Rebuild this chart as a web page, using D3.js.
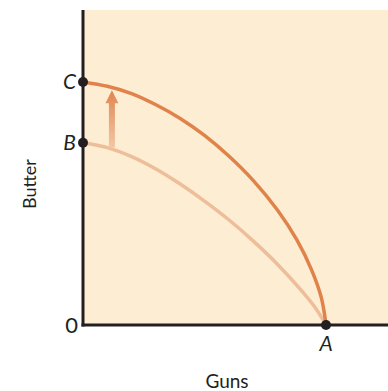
<!DOCTYPE html>
<html>
<head>
<meta charset="utf-8">
<script src="https://cdn.jsdelivr.net/npm/d3@7"></script>
<style>
  html, body { margin: 0; padding: 0; background: #ffffff; }
  svg { display: block; }
  text { font-family: "Lato", "DejaVu Sans", sans-serif; fill: #231f20; }
</style>
</head>
<body>
<svg id="chart" width="388" height="391"></svg>
<script>
// Production possibilities frontier: guns vs butter, before and after growth
const gunsBefore = [0, 10, 20, 30, 40, 50, 60, 70, 80, 90, 96, 100];
const butterBefore = [75, 73, 69.3, 64.2, 58, 51, 43.3, 34.6, 25, 14, 6.5, 0];

const gunsAfter = [0, 10, 20, 30, 40, 50, 60, 70, 80, 88, 94, 98, 100];
const butterAfter = [100, 98.2, 95.2, 90.6, 85, 78, 69.5, 59.5, 47.3, 35, 22.8, 11.5, 0];

// Labelled points on the axes
const pointNames = ["C", "B", "A"];
const pointGuns = [0, 0, 100];
const pointButter = [100, 75, 0];

const originLabel = "0";
const xTitle = "Guns";
const yTitle = "Butter";

const svg = d3.select("#chart");
const margin = { left: 83, top: 10, right: 0, bottom: 66 };
const W = 388, H = 391;
const xMax = 125.5, yMax = 129.6;

const x = d3.scaleLinear().domain([0, xMax]).range([margin.left, W - margin.right]);
const y = d3.scaleLinear().domain([0, yMax]).range([H - margin.bottom, margin.top]);

// plot background
svg.append("rect")
  .attr("x", x(0)).attr("y", y(yMax))
  .attr("width", x(xMax) - x(0)).attr("height", y(0) - y(yMax))
  .attr("fill", "#fdeed3");

const line = d3.line()
  .x(d => x(d[0])).y(d => y(d[1]))
  .curve(d3.curveCatmullRom.alpha(0.5));

svg.append("path")
  .datum(d3.zip(gunsBefore, butterBefore))
  .attr("d", line)
  .attr("fill", "none")
  .attr("stroke", "#eebd9a")
  .attr("stroke-width", 3.5);

svg.append("path")
  .datum(d3.zip(gunsAfter, butterAfter))
  .attr("d", line)
  .attr("fill", "none")
  .attr("stroke", "#e0834b")
  .attr("stroke-width", 3.5);

// shift arrow with a vertical fade
const defs = svg.append("defs");
const grad = defs.append("linearGradient")
  .attr("id", "shiftGrad")
  .attr("x1", 0).attr("y1", 1).attr("x2", 0).attr("y2", 0);
grad.append("stop").attr("offset", "0%").attr("stop-color", "#f3c7a4");
grad.append("stop").attr("offset", "100%").attr("stop-color", "#e08550");

const ax = x(11.9);
const yBottom = y(73);
const yTip = y(96.6);
const headH = 13, headW = 6.5, shaftW = 3;
svg.append("path")
  .attr("d", `M${ax - shaftW},${yBottom} L${ax - shaftW},${yTip + headH} L${ax - headW},${yTip + headH} L${ax},${yTip} L${ax + headW},${yTip + headH} L${ax + shaftW},${yTip + headH} L${ax + shaftW},${yBottom} Z`)
  .attr("fill", "url(#shiftGrad)");

// axes
svg.append("line")
  .attr("x1", x(0)).attr("x2", x(0))
  .attr("y1", y(yMax)).attr("y2", y(0) + 1.5)
  .attr("stroke", "#231f20").attr("stroke-width", 3);
svg.append("line")
  .attr("x1", x(0) - 1.5).attr("x2", x(xMax))
  .attr("y1", y(0)).attr("y2", y(0))
  .attr("stroke", "#231f20").attr("stroke-width", 3);

// labelled points
const pts = pointNames.map((n, i) => ({ n, g: pointGuns[i], b: pointButter[i] }));

svg.selectAll("circle.pt")
  .data(pts)
  .join("circle")
  .attr("class", "pt")
  .attr("cx", d => x(d.g)).attr("cy", d => y(d.b))
  .attr("r", 5)
  .attr("fill", "#231f20");

svg.selectAll("text.pt")
  .data(pts)
  .join("text")
  .attr("class", "pt")
  .attr("x", d => d.g === 0 ? x(d.g) - 7 : x(d.g))
  .attr("y", d => d.b === 0 ? y(d.b) + 26 : y(d.b) + 7)
  .attr("text-anchor", d => d.g === 0 ? "end" : "middle")
  .attr("font-style", "italic")
  .attr("font-size", 21)
  .text(d => d.n);

svg.append("text")
  .attr("x", x(0) - 5).attr("y", y(0) + 8)
  .attr("text-anchor", "end")
  .attr("font-size", 22)
  .text(originLabel);

svg.append("text")
  .attr("x", 227).attr("y", 388)
  .attr("text-anchor", "middle")
  .attr("font-size", 19)
  .text(xTitle);

svg.append("text")
  .attr("transform", "translate(36,184) rotate(-90)")
  .attr("text-anchor", "middle")
  .attr("font-size", 18)
  .text(yTitle);
</script>
</body>
</html>
